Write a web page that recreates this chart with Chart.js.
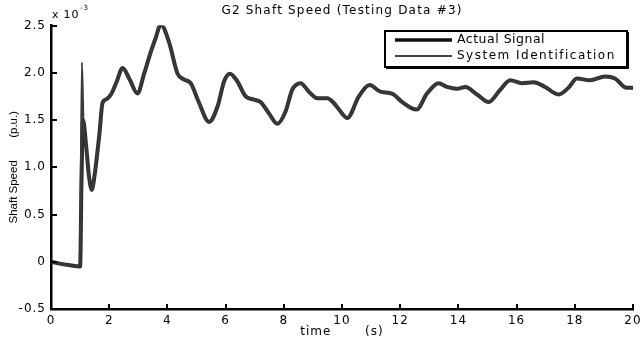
<!DOCTYPE html>
<html>
<head>
<meta charset="utf-8">
<script src="https://cdn.jsdelivr.net/npm/chart.js@4.4.1/dist/chart.umd.min.js"></script>
<style>
  html, body { margin: 0; padding: 0; background: #fff; }
  #wrap { width: 640px; height: 350px; position: relative; }
</style>
</head>
<body>
<div id="wrap"><canvas id="c" width="640" height="350"></canvas></div>
<script>
// ---- data (shaft speed values in units of 1e-3 p.u.) ----
const chartTitle = "G2 Shaft Speed (Testing Data #3)";
const xTitle = "time       (s)";
const yTitle = "Shaft Speed       (p.u.)";
const yMultiplier = "x 10";
const yExponent = "-3";
const seriesNames = ["Actual Signal", "System Identification"];

const timeActual = [0, 0.3, 0.6, 1.0, 1.05, 1.1, 1.2, 1.3, 1.4, 1.5, 1.58, 1.66, 1.77, 1.9, 2.06, 2.25, 2.46, 2.7, 2.97, 3.2, 3.43, 3.6, 3.77, 4.05, 4.35, 4.56, 4.8, 5.09, 5.43, 5.72, 5.95, 6.15, 6.4, 6.69, 6.92, 7.2, 7.49, 7.78, 8.06, 8.29, 8.58, 8.86, 9.15, 9.49, 9.72, 9.95, 10.18, 10.58, 10.95, 11.32, 11.72, 12.07, 12.56, 12.92, 13.32, 13.61, 13.95, 14.24, 14.64, 15.04, 15.44, 15.78, 16.18, 16.58, 16.98, 17.44, 17.78, 18.07, 18.52, 19.04, 19.38, 19.78, 20.0];
const actual = [0, -0.02, -0.035, -0.05, 0.9, 1.5, 1.25, 0.92, 0.76, 0.92, 1.12, 1.34, 1.68, 1.72, 1.77, 1.9, 2.05, 1.93, 1.78, 1.99, 2.22, 2.37, 2.51, 2.33, 1.99, 1.93, 1.89, 1.68, 1.48, 1.64, 1.91, 1.99, 1.91, 1.75, 1.72, 1.69, 1.57, 1.46, 1.59, 1.82, 1.89, 1.80, 1.73, 1.73, 1.68, 1.59, 1.52, 1.75, 1.87, 1.80, 1.78, 1.69, 1.61, 1.78, 1.89, 1.85, 1.83, 1.85, 1.77, 1.69, 1.82, 1.92, 1.89, 1.90, 1.85, 1.77, 1.84, 1.94, 1.92, 1.96, 1.94, 1.84, 1.84];

const timeSysId = [0, 0.3, 0.6, 1.0, 1.06, 1.12, 1.2, 1.3, 1.4, 1.5, 1.58, 1.66, 1.77, 1.9, 2.06, 2.25, 2.46, 2.7, 2.97, 3.2, 3.43, 3.6, 3.77, 4.05, 4.35, 4.56, 4.8, 5.09, 5.43, 5.72, 5.95, 6.15, 6.4, 6.69, 6.92, 7.2, 7.49, 7.78, 8.06, 8.29, 8.58, 8.86, 9.15, 9.49, 9.72, 9.95, 10.18, 10.58, 10.95, 11.32, 11.72, 12.07, 12.56, 12.92, 13.32, 13.61, 13.95, 14.24, 14.64, 15.04, 15.44, 15.78, 16.18, 16.58, 16.98, 17.44, 17.78, 18.07, 18.52, 19.04, 19.38, 19.78, 20.0];
const sysId = [0, -0.02, -0.035, -0.05, 2.11, 1.45, 1.25, 0.92, 0.76, 0.92, 1.12, 1.34, 1.68, 1.72, 1.77, 1.9, 2.05, 1.93, 1.78, 1.99, 2.22, 2.37, 2.51, 2.33, 1.99, 1.93, 1.89, 1.68, 1.48, 1.64, 1.91, 1.99, 1.91, 1.75, 1.72, 1.69, 1.57, 1.46, 1.59, 1.82, 1.89, 1.80, 1.73, 1.73, 1.68, 1.59, 1.52, 1.75, 1.87, 1.80, 1.78, 1.69, 1.61, 1.78, 1.89, 1.85, 1.83, 1.85, 1.77, 1.69, 1.82, 1.92, 1.89, 1.90, 1.85, 1.77, 1.84, 1.94, 1.92, 1.96, 1.94, 1.84, 1.84];

const xMin = 0, xMax = 20, xStep = 2;
const yMin = -0.5, yMax = 2.5, yStep = 0.5;

// ---- styles ----
const FONT = "'DejaVu Sans', sans-serif";
const actualColor = '#2e2e2e';
const sysColor = '#3a3a3a';

const toXY = (xs, ys) => xs.map((x, i) => ({ x: x, y: ys[i] }));

const decorPlugin = {
  id: 'decor',
  beforeDraw(chart) {
    chart.ctx.letterSpacing = '1px';
  },
  afterDraw(chart) {
    const ctx = chart.ctx;
    const xs = chart.scales.x, ys = chart.scales.y;
    const area = chart.chartArea;
    ctx.save();
    // inward tick marks
    ctx.strokeStyle = '#000';
    ctx.lineWidth = 2;
    ctx.beginPath();
    xs.ticks.forEach(t => {
      const px = Math.round(xs.getPixelForValue(t.value));
      ctx.moveTo(px, area.bottom);
      ctx.lineTo(px, area.bottom - 5);
    });
    ys.ticks.forEach(t => {
      const py = Math.round(ys.getPixelForValue(t.value));
      ctx.moveTo(area.left, py);
      ctx.lineTo(area.left + 6, py);
    });
    ctx.stroke();

    ctx.fillStyle = '#000';
    // title
    ctx.letterSpacing = '1.2px';
    ctx.font = '12px ' + FONT;
    ctx.textAlign = 'center';
    ctx.textBaseline = 'middle';
    ctx.fillText(chartTitle, (area.left + area.right) / 2, 11);

    // x title
    ctx.letterSpacing = '1px';
    ctx.font = '12px ' + FONT;
    ctx.fillText(xTitle, (area.left + area.right) / 2, 332);

    // multiplier
    ctx.textAlign = 'left';
    ctx.font = '11px ' + FONT;
    ctx.letterSpacing = '0.8px';
    ctx.fillText(yMultiplier, area.left + 1, 15);
    const w = ctx.measureText(yMultiplier).width;
    ctx.font = '7px ' + FONT;
    ctx.fillText(yExponent, area.left + 2 + w, 8);

    // y title (rotated)
    ctx.save();
    ctx.letterSpacing = '0px';
    ctx.translate(14, (area.top + area.bottom) / 2);
    ctx.rotate(-Math.PI / 2);
    ctx.font = "11.5px 'Liberation Sans', Arial, sans-serif";
    ctx.textAlign = 'center';
    ctx.textBaseline = 'middle';
    ctx.fillText(yTitle, 0, 0);
    ctx.restore();

    // legend
    const bx = 385, by = 31, bw = 242, bh = 36;
    ctx.fillStyle = '#fff';
    ctx.fillRect(bx, by, bw, bh);
    ctx.strokeStyle = '#000';
    ctx.lineWidth = 2;
    ctx.strokeRect(bx, by, bw, bh);
    ctx.lineWidth = 1;
    ctx.beginPath();
    ctx.moveTo(bx + 1, by + bh + 1.5); ctx.lineTo(bx + bw + 1.5, by + bh + 1.5); ctx.lineTo(bx + bw + 1.5, by + 1);
    ctx.stroke();

    const ds = chart.data.datasets;
    const rows = [
      { y: 40, ds: ds[1], size: '12.5px', ls: '0.5px' },
      { y: 56, ds: ds[0], size: '12px', ls: '1.5px' }
    ];
    rows.forEach(r => {
      ctx.strokeStyle = r.ds.legendColor;
      ctx.lineWidth = r.ds.legendWidth;
      ctx.beginPath();
      ctx.moveTo(395, r.y);
      ctx.lineTo(452, r.y);
      ctx.stroke();
      ctx.fillStyle = '#000';
      ctx.font = r.size + ' ' + FONT;
      ctx.letterSpacing = r.ls;
      ctx.textAlign = 'left';
      ctx.textBaseline = 'middle';
      ctx.fillText(r.ds.label, 457, r.y);
    });
    ctx.restore();
  }
};

new Chart(document.getElementById('c'), {
  type: 'line',
  data: {
    datasets: [
      {
        label: seriesNames[1],
        data: toXY(timeSysId, sysId),
        borderColor: sysColor,
        borderWidth: 2,
        legendColor: '#444',
        legendWidth: 2,
        pointRadius: 0,
        cubicInterpolationMode: 'monotone',
        order: 1
      },
      {
        label: seriesNames[0],
        data: toXY(timeActual, actual),
        borderColor: actualColor,
        borderWidth: 4,
        legendColor: '#111',
        legendWidth: 3.5,
        pointRadius: 0,
        cubicInterpolationMode: 'monotone',
        order: 2
      }
    ]
  },
  plugins: [decorPlugin],
  options: {
    responsive: false,
    animation: false,
    events: [],
    layout: { padding: { left: 0, top: 25.5, right: 7, bottom: 0 } },
    plugins: { legend: { display: false }, tooltip: { enabled: false }, title: { display: false } },
    scales: {
      x: {
        type: 'linear',
        min: xMin, max: xMax,
        grid: { display: false, drawTicks: false },
        border: { display: true, color: '#000', width: 2.5 },
        ticks: { stepSize: xStep, color: '#000', font: { family: FONT, size: 12 }, padding: 5, maxRotation: 0, autoSkip: false },
        afterFit(s) { s.height = 41; s.paddingRight = 0; s.paddingLeft = 0; }
      },
      y: {
        type: 'linear',
        min: yMin, max: yMax,
        grid: { display: false, drawTicks: false },
        border: { display: true, color: '#000', width: 2.5 },
        ticks: { stepSize: yStep, color: '#000', font: { family: FONT, size: 12 }, padding: 5 },
        afterFit(s) { s.width = 51; s.paddingTop = 0; s.paddingBottom = 0; }
      }
    }
  }
});
</script>
</body>
</html>
